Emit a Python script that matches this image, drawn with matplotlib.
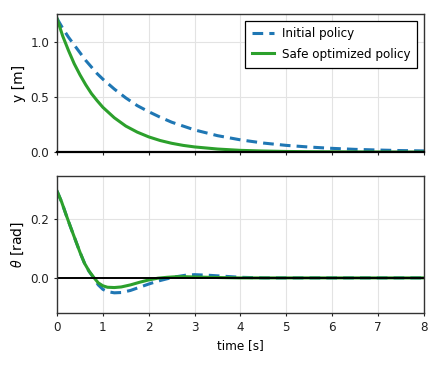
import matplotlib
matplotlib.use("Agg")
import matplotlib.pyplot as plt

plt.rcParams['font.family'] = ['DejaVu Sans']
plt.rcParams['font.stretch'] = 'condensed'
plt.rcParams['font.size'] = 9.5

# y position [m]
t_y = [0, 0.125, 0.25, 0.375, 0.5, 0.625, 0.75, 0.875, 1.0, 1.25, 1.5, 1.75, 2.0, 2.25,
       2.5, 2.75, 3.0, 3.5, 4.0, 4.5, 5.0, 5.5, 6.0, 6.5, 7.0, 7.5, 8.0]
y_init = [1.21, 1.12, 1.04, 0.97, 0.90, 0.83, 0.77, 0.71, 0.66, 0.57, 0.49, 0.42, 0.365,
          0.315, 0.27, 0.235, 0.20, 0.148, 0.11, 0.081, 0.06, 0.045, 0.033, 0.024,
          0.018, 0.013, 0.010]
y_safe = [1.21, 1.05, 0.92, 0.80, 0.70, 0.61, 0.53, 0.465, 0.405, 0.31, 0.235, 0.18,
          0.137, 0.104, 0.079, 0.06, 0.046, 0.027, 0.015, 0.009, 0.005, 0.003, 0.002,
          0.001, 0.0005, 0.0, 0.0]

# theta [rad]
t_th = [0, 0.1, 0.2, 0.3, 0.4, 0.5, 0.6, 0.7, 0.8, 0.9, 1.0, 1.1, 1.25, 1.4, 1.6, 1.8,
        2.0, 2.2, 2.4, 2.6, 2.8, 3.0, 3.3, 3.6, 4.0, 4.5, 5.0, 6.0, 7.0, 8.0]
th_init = [0.297, 0.26, 0.215, 0.172, 0.13, 0.088, 0.05, 0.022, 0.0, -0.024, -0.039,
           -0.047, -0.051, -0.050, -0.043, -0.032, -0.021, -0.011, -0.003, 0.004, 0.009,
           0.011, 0.009, 0.006, 0.002, 0.0, 0.0, 0.0, 0.0, 0.0]
th_safe = [0.297, 0.26, 0.215, 0.172, 0.13, 0.088, 0.05, 0.023, 0.002, -0.017, -0.027,
           -0.032, -0.033, -0.031, -0.024, -0.015, -0.007, -0.001, 0.002, 0.004, 0.004,
           0.003, 0.002, 0.001, 0.0, 0.0, 0.0, 0.0, 0.0, 0.0]

blue = '#1f77b4'
green = '#2ca02c'

fig = plt.figure(figsize=(4.4, 3.67), dpi=100)
ax1 = fig.add_axes([0.1295, 0.5858, 0.8341, 0.3761])
ax2 = fig.add_axes([0.1295, 0.1471, 0.8341, 0.3733])

for ax in (ax1, ax2):
    ax.grid(True, color='#e3e3e3', lw=0.8)
    ax.set_axisbelow(True)
    for s in ax.spines.values():
        s.set_color('#333333')
        s.set_linewidth(1.0)
    ax.tick_params(colors='#222222', length=2.5, pad=3)
    ax.set_xlim(0, 8)
    ax.set_xticks(range(0, 9))

ax1.plot(t_y, y_init, '--', color=blue, lw=2.2, dashes=(3.5, 2), label='Initial policy')
ax1.plot(t_y, y_safe, '-', color=green, lw=2.2, label='Safe optimized policy')
ax1.set_ylim(0, 1.25)
ax1.set_yticks([0.0, 0.5, 1.0])
ax1.tick_params(labelbottom=False)
ax1.spines['bottom'].set_linewidth(1.6)
ax1.spines['bottom'].set_color('black')
ax1.set_ylabel('y [m]', labelpad=3, fontstretch='normal', fontsize=10)
leg = ax1.legend(loc='upper right', fancybox=False, edgecolor='black', framealpha=1,
                 borderpad=0.5, labelspacing=0.6, handlelength=1.7, handletextpad=0.6,
                 fontsize=9.5)
leg.get_frame().set_linewidth(0.9)

ax2.plot(t_th, th_init, '--', color=blue, lw=2.2, dashes=(3.5, 2))
ax2.plot(t_th, th_safe, '-', color=green, lw=2.2)
ax2.axhline(0, color='black', lw=1.4)
ax2.set_ylim(-0.12, 0.348)
ax2.set_yticks([0.0, 0.2])
ax2.set_ylabel(r'$\theta$ [rad]', labelpad=3, fontstretch='normal', fontsize=10)
ax2.set_xlabel('time [s]', labelpad=4)

fig.savefig('out.png', dpi=100)
